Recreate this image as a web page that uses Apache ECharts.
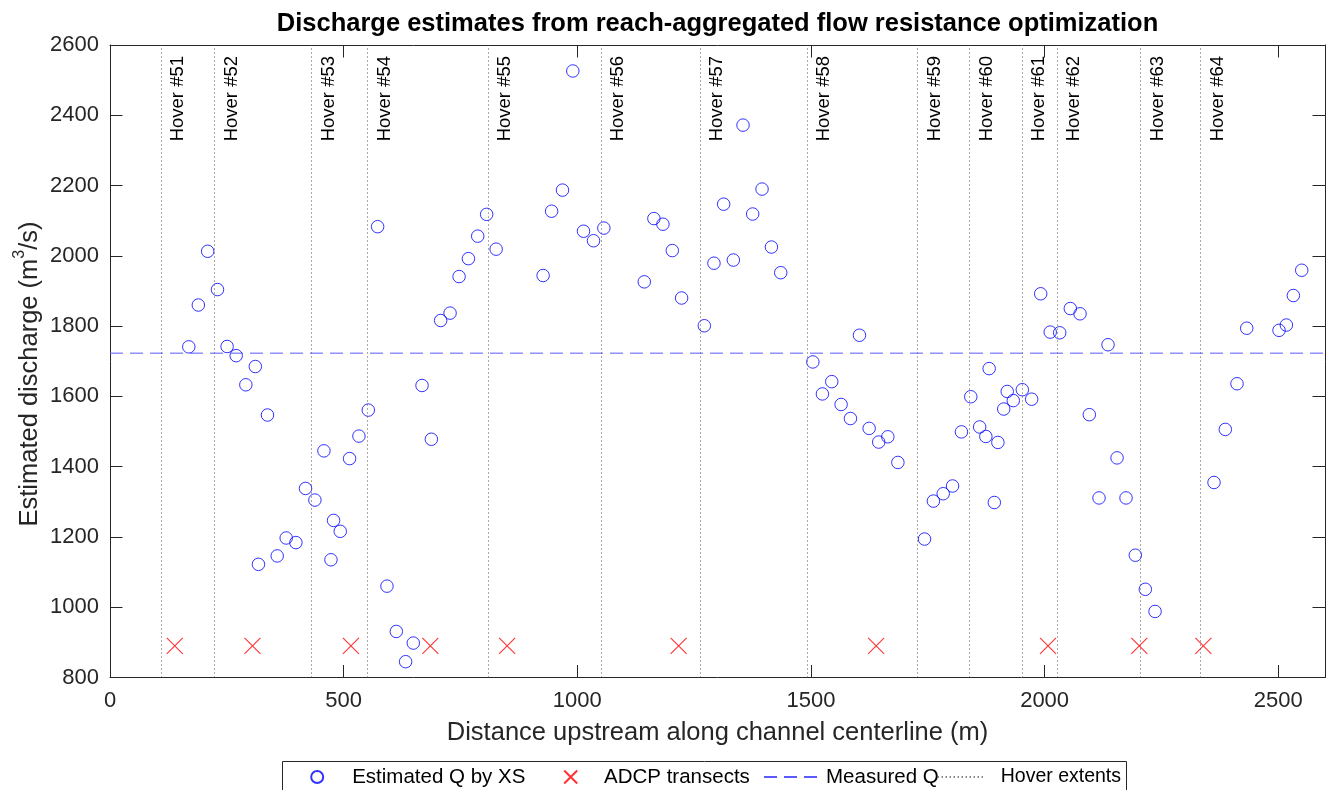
<!DOCTYPE html>
<html>
<head>
<meta charset="utf-8">
<script src="https://cdn.jsdelivr.net/npm/echarts@6/dist/echarts.min.js"></script>
<style>
  html, body { margin: 0; padding: 0; background: #ffffff; }
  #chart { width: 1330px; height: 790px; }
</style>
</head>
<body>
<div id="chart"></div>
<script>
// Cross-section positions (m upstream) and the discharge estimated at each one (m^3/s)
const XS_DISTANCE = [
  168.6, 189, 209, 230, 250.6, 270, 290.7, 311, 317.7, 337,
  357.8, 377, 397.8, 418.4, 438.5, 457.8, 472.8, 478.4, 492.7, 512.7,
  532.7, 552.7, 572.7, 592.7, 612.7, 632.6, 649, 667.7, 687.7, 707.6,
  727.7, 747, 767, 786.9, 806, 826.3, 926.8, 945, 968.3, 990.4,
  1013.3, 1034.7, 1056.8, 1143.3, 1163.9, 1183.2, 1203.3, 1223.2, 1271.8, 1292.4,
  1313.2, 1333.9, 1354.6, 1375.3, 1395.3, 1415.4, 1435.3, 1504, 1524.5, 1544.5,
  1564.5, 1584.5, 1603.8, 1624.5, 1645, 1664.5, 1686, 1743, 1762, 1783,
  1803, 1822, 1842, 1861, 1874.2, 1881.3, 1892.4, 1900, 1912.5, 1920,
  1933, 1952.3, 1972.3, 1991.6, 2012, 2032.3, 2055, 2075.8, 2095.7, 2116.4,
  2135.7, 2155, 2174.2, 2194.1, 2215.5, 2236.3, 2362.5, 2386.7, 2411.7, 2432.5,
  2501.6, 2517.3, 2532.3, 2550.2
];
const XS_DISCHARGE = [
  1741, 1860, 2013, 1904, 1742, 1716, 1633, 1685, 1122, 1547,
  1146, 1197, 1184, 1338, 1305, 1445, 1135, 1247, 1216, 1423,
  1487, 1561, 2083, 1060, 931, 845, 898, 1631, 1478, 1816,
  1837, 1941, 1992, 2056, 2118, 2019, 1944, 2127, 2187, 2526,
  2070, 2043, 2079, 1926, 2106, 2090, 2015, 1880, 1801, 1979,
  2147, 1988, 2372, 2119, 2190, 2025, 1952, 1698, 1607, 1642,
  1577, 1537, 1774, 1509, 1470, 1485, 1412, 1194, 1302, 1323,
  1345, 1499, 1599, 1513, 1486, 1679, 1298, 1469, 1564, 1614,
  1588, 1619, 1592, 1892, 1783, 1781, 1850, 1835, 1548, 1311,
  1747, 1425, 1311, 1148, 1051, 988, 1355, 1506, 1636, 1794,
  1788, 1803, 1887, 1959
];

// ADCP transect locations and the level at which they are marked
const ADCP_DISTANCE = [138.6, 304.9, 515.6, 685.5, 849.8, 1216.8, 1639.5, 2007.3, 2202.6, 2339.7];
const ADCP_DISCHARGE = [890, 890, 890, 890, 890, 890, 890, 890, 890, 890];

// Gauged discharge for the reach
const MEASURED_Q = 1723;

// Boundaries between hover segments and their names
const HOVER_EXTENTS = [109.1, 224.1, 431.6, 551.5, 808.9, 1051.4, 1262.6, 1492.2, 1728.5, 1839.7, 1952.3, 2027.2, 2205.6, 2334.1];
const HOVER_LABELS = ['Hover #51', 'Hover #52', 'Hover #53', 'Hover #54', 'Hover #55', 'Hover #56', 'Hover #57',
                      'Hover #58', 'Hover #59', 'Hover #60', 'Hover #61', 'Hover #62', 'Hover #63', 'Hover #64'];

// Axis ticks
const X_TICKS = [0, 500, 1000, 1500, 2000, 2500];
const X_LIMIT = 2600;
const Y_TICKS = [800, 1000, 1200, 1400, 1600, 1800, 2000, 2200, 2400, 2600];

const FONT = '"Liberation Sans", Arial, Helvetica, sans-serif';
const AXIS_COLOR = '#262626';
const HOVER_COLOR = '#505050';
const HOVER_DASH = [1, 3];

const chart = echarts.init(document.getElementById('chart'), null, { renderer: 'canvas' });

const xInterval = X_TICKS[1] - X_TICKS[0];
const yInterval = Y_TICKS[1] - Y_TICKS[0];

function baseAxisStyle() {
  return {
    axisLine: { show: true, onZero: false, lineStyle: { color: AXIS_COLOR, width: 1 } },
    axisTick: { show: true, inside: true, length: 12.5, lineStyle: { color: AXIS_COLOR, width: 1 } },
    splitLine: { show: false }
  };
}

const xBottom = Object.assign(baseAxisStyle(), {
  type: 'value', position: 'bottom',
  min: X_TICKS[0], max: X_LIMIT, interval: xInterval,
  axisLabel: { margin: 12, fontSize: 22, color: AXIS_COLOR, fontFamily: FONT, showMaxLabel: false,
               formatter: v => (X_TICKS.indexOf(v) >= 0 ? String(v) : '') },
  name: 'Distance upstream along channel centerline (m)',
  nameLocation: 'middle', nameGap: 42,
  nameTextStyle: { fontSize: 25.5, color: AXIS_COLOR, fontFamily: FONT }
});
const xTop = Object.assign(baseAxisStyle(), {
  type: 'value', position: 'top',
  min: X_TICKS[0], max: X_LIMIT, interval: xInterval,
  axisLabel: { show: false }
});
const yLeft = Object.assign(baseAxisStyle(), {
  type: 'value', position: 'left',
  min: Y_TICKS[0], max: Y_TICKS[Y_TICKS.length - 1], interval: yInterval,
  axisLabel: { margin: 11, fontSize: 22, color: AXIS_COLOR, fontFamily: FONT,
               formatter: v => String(v) }
});
const yRight = Object.assign(baseAxisStyle(), {
  type: 'value', position: 'right',
  min: Y_TICKS[0], max: Y_TICKS[Y_TICKS.length - 1], interval: yInterval,
  axisLabel: { show: false }
});

const legendText = { fontSize: 20.5, color: '#000000', fontFamily: FONT, lineHeight: 24 };
function legendAt(name, left, itemWidth, itemHeight, extra) {
  return Object.assign({
    data: [name], orient: 'horizontal', left: left, top: 765,
    padding: 0, itemGap: 0, itemWidth: itemWidth, itemHeight: itemHeight,
    selectedMode: false, symbolKeepAspect: true,
    textStyle: Object.assign({}, legendText)
  }, extra || {});
}

const option = {
  animation: false,
  backgroundColor: '#ffffff',
  title: {
    text: 'Discharge estimates from reach-aggregated flow resistance optimization',
    left: 717.5, textAlign: 'center', top: 11, padding: 0,
    textStyle: { fontSize: 25.5, fontWeight: 'bold', color: '#000000', fontFamily: FONT }
  },
  grid: { left: 110, right: 5, top: 45, bottom: 112.5, containLabel: false },
  xAxis: [xBottom, xTop],
  yAxis: [yLeft, yRight],
  legend: [
    legendAt('Estimated Q by XS', 308.7, 60, 12),
    legendAt('ADCP transects', 561.7, 56.6, 13),
    legendAt('Measured Q', 763, 57, 12, { itemStyle: { opacity: 0 } }),
    legendAt('Hover extents', 936.7, 45, 12, {
      itemStyle: { opacity: 0 },
      textStyle: Object.assign({}, legendText, { fontSize: 19.5, padding: [0, 0, 0, 13] })
    })
  ],
  graphic: [
    {
      type: 'rect', z: 0, silent: true,
      shape: { x: 282.5, y: 761.5, width: 844, height: 40 },
      style: { fill: '#ffffff', stroke: AXIS_COLOR, lineWidth: 1 }
    },
    {
      type: 'text', silent: true,
      x: 30, y: 374, rotation: Math.PI / 2,
      style: {
        text: '{a|Estimated discharge (m}{s|3}{a|/s)}',
        textAlign: 'center', textVerticalAlign: 'middle',
        align: 'center', verticalAlign: 'middle',
        fill: AXIS_COLOR,
        rich: {
          a: { fontSize: 25.5, lineHeight: 36, fontFamily: FONT, fill: AXIS_COLOR, color: AXIS_COLOR },
          s: { fontSize: 16, lineHeight: 16, fontFamily: FONT, verticalAlign: 'top', fill: AXIS_COLOR, color: AXIS_COLOR }
        }
      }
    }
  ],
  series: [
    {
      name: 'Estimated Q by XS',
      type: 'scatter', xAxisIndex: 0, yAxisIndex: 0,
      data: XS_DISTANCE.map((d, i) => [d, XS_DISCHARGE[i]]),
      symbol: 'circle', symbolSize: 12.5,
      itemStyle: { color: 'none', borderColor: '#0000ff', borderWidth: 1 },
      emphasis: { disabled: true }, z: 3
    },
    {
      name: 'ADCP transects',
      type: 'scatter', xAxisIndex: 0, yAxisIndex: 0,
      data: ADCP_DISTANCE.map((d, i) => [d, ADCP_DISCHARGE[i]]),
      symbol: 'path://M0,0L16,16M16,0L0,16', symbolSize: 16,
      itemStyle: { color: 'none', borderColor: '#ff0000', borderWidth: 1.1 },
      emphasis: { disabled: true }, z: 3
    },
    {
      name: 'Measured Q',
      type: 'line', xAxisIndex: 0, yAxisIndex: 0,
      data: [[X_TICKS[0], MEASURED_Q], [X_LIMIT, MEASURED_Q]],
      symbol: 'none', showSymbol: false,
      itemStyle: { color: '#5a5aff' },
      lineStyle: { color: '#5a5aff', width: 1, type: [13, 7] },
      emphasis: { disabled: true }, z: 4
    },
    {
      name: 'Hover extents',
      type: 'line', xAxisIndex: 0, yAxisIndex: 0,
      data: [],
      symbol: 'none', showSymbol: false,
      itemStyle: { color: HOVER_COLOR },
      lineStyle: { color: HOVER_COLOR, width: 1, type: HOVER_DASH },
      markLine: {
        silent: true, animation: false,
        symbol: ['none', 'none'],
        lineStyle: { color: HOVER_COLOR, width: 1, type: HOVER_DASH },
        emphasis: { disabled: true },
        label: {
          show: true, position: 'insideEndBottom', align: 'right',
          distance: [11, 7.5], formatter: '{b}',
          fontSize: 18.5, color: '#000000', fontFamily: FONT
        },
        data: HOVER_EXTENTS.map((x, i) => ({ xAxis: x, name: HOVER_LABELS[i] }))
      },
      z: 2
    }
  ]
};

chart.setOption(option);
</script>
</body>
</html>
